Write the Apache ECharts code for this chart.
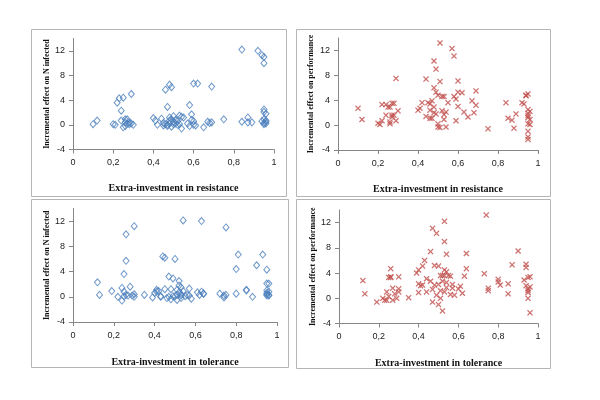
<!DOCTYPE html>
<html><head><meta charset="utf-8">
<script src="https://cdn.jsdelivr.net/npm/echarts@6/dist/echarts.min.js"></script>
<style>html,body{margin:0;padding:0;background:#fff}#c{width:600px;height:400px}</style>
</head><body><div id="c"></div>
<script>
// Panel 1: extra-investment in resistance vs incremental effect on N infected
const resInfX = [0.10,0.12,0.20,0.21,0.22,0.23,0.25,0.24,0.29,0.24,0.26,0.25,0.26,0.27,0.28,0.28,0.29,0.26,0.27,0.30,
 0.40,0.41,0.42,0.44,0.45,0.46,0.47,0.48,0.46,0.48,0.49,0.47,0.48,0.49,0.50,0.49,0.50,0.51,0.52,0.53,0.54,0.55,0.54,0.53,0.52,0.51,0.50,0.48,0.47,0.45,
 0.58,0.59,0.59,0.60,0.57,0.58,0.60,0.61,0.60,0.62,0.69,0.65,0.67,0.68,0.69,0.75,
 0.84,0.84,0.87,0.87,0.89,0.92,0.94,0.95,0.95,0.95,0.95,0.96,0.95,0.94,0.96,0.95,0.96,0.96,0.95];
const resInfY = [0.1,0.7,0.1,0.0,3.6,4.3,4.4,2.3,5.0,0.7,0.9,-0.4,-0.2,0.9,0.4,0.1,0.2,0.4,0.2,0.0,
 1.1,0.7,0.0,1.0,-0.1,0.1,0.0,0.2,5.7,6.5,6.1,2.9,1.2,0.9,0.5,-0.3,1.4,0.2,0.6,1.5,1.3,1.2,-0.6,0.1,0.0,0.8,0.1,0.7,-0.2,0.3,
 3.2,1.7,0.8,0.6,0.2,-0.2,0.0,-0.1,6.7,6.7,6.2,-0.4,0.5,0.3,0.4,0.9,
 0.5,12.2,1.2,0.4,0.4,12.0,11.3,11.0,10.0,2.5,2.1,1.8,0.9,0.6,0.7,0.3,0.2,0.5,0.1];

// Panel 2: extra-investment in resistance vs incremental effect on performance
const resPerfX = [0.10,0.12,0.20,0.21,0.22,0.22,0.24,0.25,0.24,0.26,0.26,0.26,0.27,0.27,0.28,0.27,0.28,0.29,0.30,0.29,
 0.40,0.41,0.42,0.44,0.44,0.45,0.46,0.46,0.47,0.46,0.47,0.48,0.48,0.48,0.48,0.49,0.49,0.50,0.49,0.50,0.50,0.51,0.51,0.51,0.52,0.53,0.52,0.53,0.53,0.54,0.54,0.55,0.57,0.58,0.58,0.59,0.59,0.60,0.60,0.60,0.62,0.63,0.65,0.67,0.68,0.69,0.69,0.75,
 0.84,0.85,0.87,0.88,0.89,0.92,0.93,0.94,0.95,0.94,0.95,0.95,0.96,0.95,0.95,0.96,0.95,0.96,0.95,0.95,0.95];
const resPerfY = [2.7,0.9,0.3,0.1,0.7,3.3,3.3,2.9,1.6,2.9,0.5,0.2,1.3,1.6,1.6,3.5,3.5,0.7,2.3,7.5,
 2.4,2.7,3.6,7.4,1.4,3.6,3.4,2.4,3.9,1.1,1.1,2.0,2.9,10.3,6.0,9.0,5.3,4.8,1.8,0.2,-0.3,-0.4,7.0,13.2,4.6,4.6,2.3,1.7,0.9,-0.3,2.1,3.6,12.3,11.1,4.6,4.2,0.7,7.1,5.3,3.0,5.2,2.1,1.3,3.9,2.0,5.5,3.2,-0.6,
 3.6,1.1,0.8,-0.5,1.8,3.6,3.4,4.8,5.0,4.7,2.5,1.9,2.2,1.5,1.2,0.9,0.2,0.1,-1.0,-1.9,-2.3];

// Panel 3: extra-investment in tolerance vs incremental effect on N infected
const tolInfX = [0.12,0.13,0.19,0.22,0.24,0.24,0.25,0.25,0.26,0.26,0.25,0.26,0.27,0.28,0.29,0.30,0.30,0.30,0.35,
 0.39,0.40,0.41,0.41,0.42,0.43,0.43,0.44,0.45,0.45,0.46,0.47,0.47,0.48,0.48,0.49,0.49,0.50,0.50,0.51,0.51,0.51,0.52,0.52,0.52,0.53,0.53,0.53,0.53,0.54,0.54,0.55,0.56,0.57,0.57,0.58,0.61,0.62,0.63,0.63,0.64,0.64,
 0.72,0.74,0.74,0.75,0.75,0.80,0.80,0.81,0.85,0.85,0.88,0.90,0.93,0.95,0.95,0.96,0.95,0.95,0.95,0.96,0.96,0.95,0.96];
const tolInfY = [2.3,0.3,0.9,0.0,1.4,-0.6,0.1,3.6,5.7,9.9,0.8,0.3,0.2,1.6,0.2,0.0,0.4,11.2,0.3,
 -0.1,0.6,1.1,0.8,0.9,0.1,0.0,6.4,6.2,1.2,-0.2,3.2,0.0,1.2,-0.4,0.1,2.9,6.0,0.1,1.1,-0.5,0.3,1.8,2.5,0.7,-0.2,0.4,1.5,0.2,0.9,12.1,0.1,0.3,1.3,0.2,-0.3,0.7,0.3,0.8,12.0,0.5,0.5,
 0.5,-0.1,0.2,11.0,0.3,0.5,4.4,6.7,1.0,1.1,0.0,5.0,6.7,4.3,2.1,2.1,1.0,0.6,0.4,0.3,0.2,0.2,0.8];

// Panel 4: extra-investment in tolerance vs incremental effect on performance
const tolPerfX = [0.12,0.13,0.19,0.22,0.23,0.24,0.24,0.25,0.25,0.26,0.26,0.26,0.27,0.27,0.28,0.29,0.30,0.30,0.30,0.35,
 0.39,0.40,0.40,0.40,0.41,0.42,0.42,0.43,0.44,0.44,0.46,0.46,0.47,0.47,0.47,0.48,0.48,0.49,0.49,0.50,0.50,0.50,0.51,0.51,0.51,0.52,0.52,0.52,0.53,0.53,0.53,0.53,0.53,0.54,0.54,0.54,0.54,0.55,0.56,0.56,0.57,0.57,0.58,0.60,0.61,0.62,0.63,0.64,0.64,
 0.73,0.74,0.75,0.75,0.80,0.80,0.81,0.85,0.85,0.87,0.90,0.93,0.94,0.94,0.94,0.95,0.95,0.95,0.95,0.95,0.96,0.96,0.96];
const tolPerfY = [2.8,0.7,-0.6,0.0,-0.3,1.0,-0.3,0.3,3.3,3.4,3.3,4.7,1.6,-0.3,0.7,0.0,1.5,1.0,3.4,0.1,
 4.0,4.5,2.3,0.9,2.0,2.1,5.1,6.0,3.1,1.0,7.4,2.7,11.1,1.4,-0.6,5.2,2.1,10.3,0.5,-1.0,5.1,2.2,3.6,0.0,1.2,2.7,3.6,-2.0,4.5,9.0,12.2,3.6,1.0,7.0,4.2,2.5,1.7,3.6,3.5,0.6,1.6,2.2,0.5,1.5,1.9,0.8,3.5,7.1,4.7,
 3.9,13.2,1.6,1.2,3.0,2.6,2.1,2.3,0.7,5.3,7.5,2.9,5.4,4.9,2.0,1.5,1.2,0.9,0.0,3.3,3.4,1.8,-2.3];

const xTicks = [0, 0.2, 0.4, 0.6, 0.8, 1];
const yTicks = [-4, 0, 4, 8, 12];
const xTitles = ['Extra-investment in resistance','Extra-investment in resistance','Extra-investment in tolerance','Extra-investment in tolerance'];
const yTitles = ['Incremental effect on N infected','Incremental effect on performance','Incremental effect on N infected','Incremental effect on performance'];

const zip = (a,b) => a.map((v,i)=>[v,b[i]]);
const datasets = [zip(resInfX,resInfY), zip(resPerfX,resPerfY), zip(tolInfX,tolInfY), zip(tolPerfX,tolPerfY)];

const grids = [
  {left:73, top:38.5, width:201, height:111},
  {left:338, top:38, width:200, height:112},
  {left:73, top:208.5, width:204, height:113.5},
  {left:339, top:210, width:199, height:113.5}
];
const frames = [[31,29,255,167],[296,29,254,167],[31,199,257,168],[296,199,254,169]];
const xGaps = [34, 34, 35, 35];
const yGaps = [22, 23, 22, 21];

const axisLineStyle = {color:'#868686', width:1};
const labelFont = {fontFamily:'Liberation Sans, Arial, sans-serif', fontSize:9, color:'#222'};
const titleFont = {fontFamily:'Liberation Serif, DejaVu Serif, serif', fontSize:10, fontWeight:'bold', color:'#111'};

const fmtX = v => { const r = Math.round(v*10)/10; return String(r).replace('.', ','); };

const option = {
  animation:false,
  backgroundColor:'#fff',
  graphic: frames.map(f => ({type:'rect', shape:{x:f[0]+0.5,y:f[1]+0.5,width:f[2],height:f[3]}, style:{fill:'none', stroke:'#b5b5b5', lineWidth:1}, z:-1})),
  grid: grids.map(g => Object.assign({containLabel:false}, g)),
  xAxis: grids.map((g,i) => ({
    gridIndex:i, type:'value', min:0, max:1, interval:0.2,
    name:xTitles[i], nameLocation:'middle', nameGap:xGaps[i], nameTextStyle:titleFont,
    axisLine:{show:true, onZero:false, lineStyle:axisLineStyle},
    axisTick:{show:true, length:4, lineStyle:axisLineStyle},
    axisLabel:Object.assign({formatter:fmtX, margin:9}, labelFont),
    splitLine:{show:false}
  })),
  yAxis: grids.map((g,i) => ({
    gridIndex:i, type:'value', min:-4, max:14, interval:4,
    name:yTitles[i], nameLocation:'middle', nameGap:yGaps[i], nameRotate:90, nameTextStyle:Object.assign({}, titleFont, {fontSize:8}),
    axisLine:{show:true, onZero:false, lineStyle:axisLineStyle},
    axisTick:{show:true, length:4, lineStyle:axisLineStyle, customValues:yTicks},
    axisLabel:Object.assign({margin:8, customValues:yTicks}, labelFont),
    splitLine:{show:false}
  })),
  series: datasets.map((d,i) => {
    const blue = (i===0 || i===2);
    return {
      type:'scatter', xAxisIndex:i, yAxisIndex:i, data:d,
      symbol: blue ? 'diamond' : 'path://M0,1.5L1.5,0L5,3.5L8.5,0L10,1.5L6.5,5L10,8.5L8.5,10L5,6.5L1.5,10L0,8.5L3.5,5Z',
      symbolSize: blue ? [6,7] : 6,
      itemStyle: blue ? {color:'rgba(255,255,255,0)', borderColor:'#4a7ebb', borderWidth:1} : {color:'#c0504d'},
      emphasis:{disabled:true}
    };
  })
};
echarts.init(document.getElementById('c'), null, {renderer:'canvas'}).setOption(option);
</script></body></html>
